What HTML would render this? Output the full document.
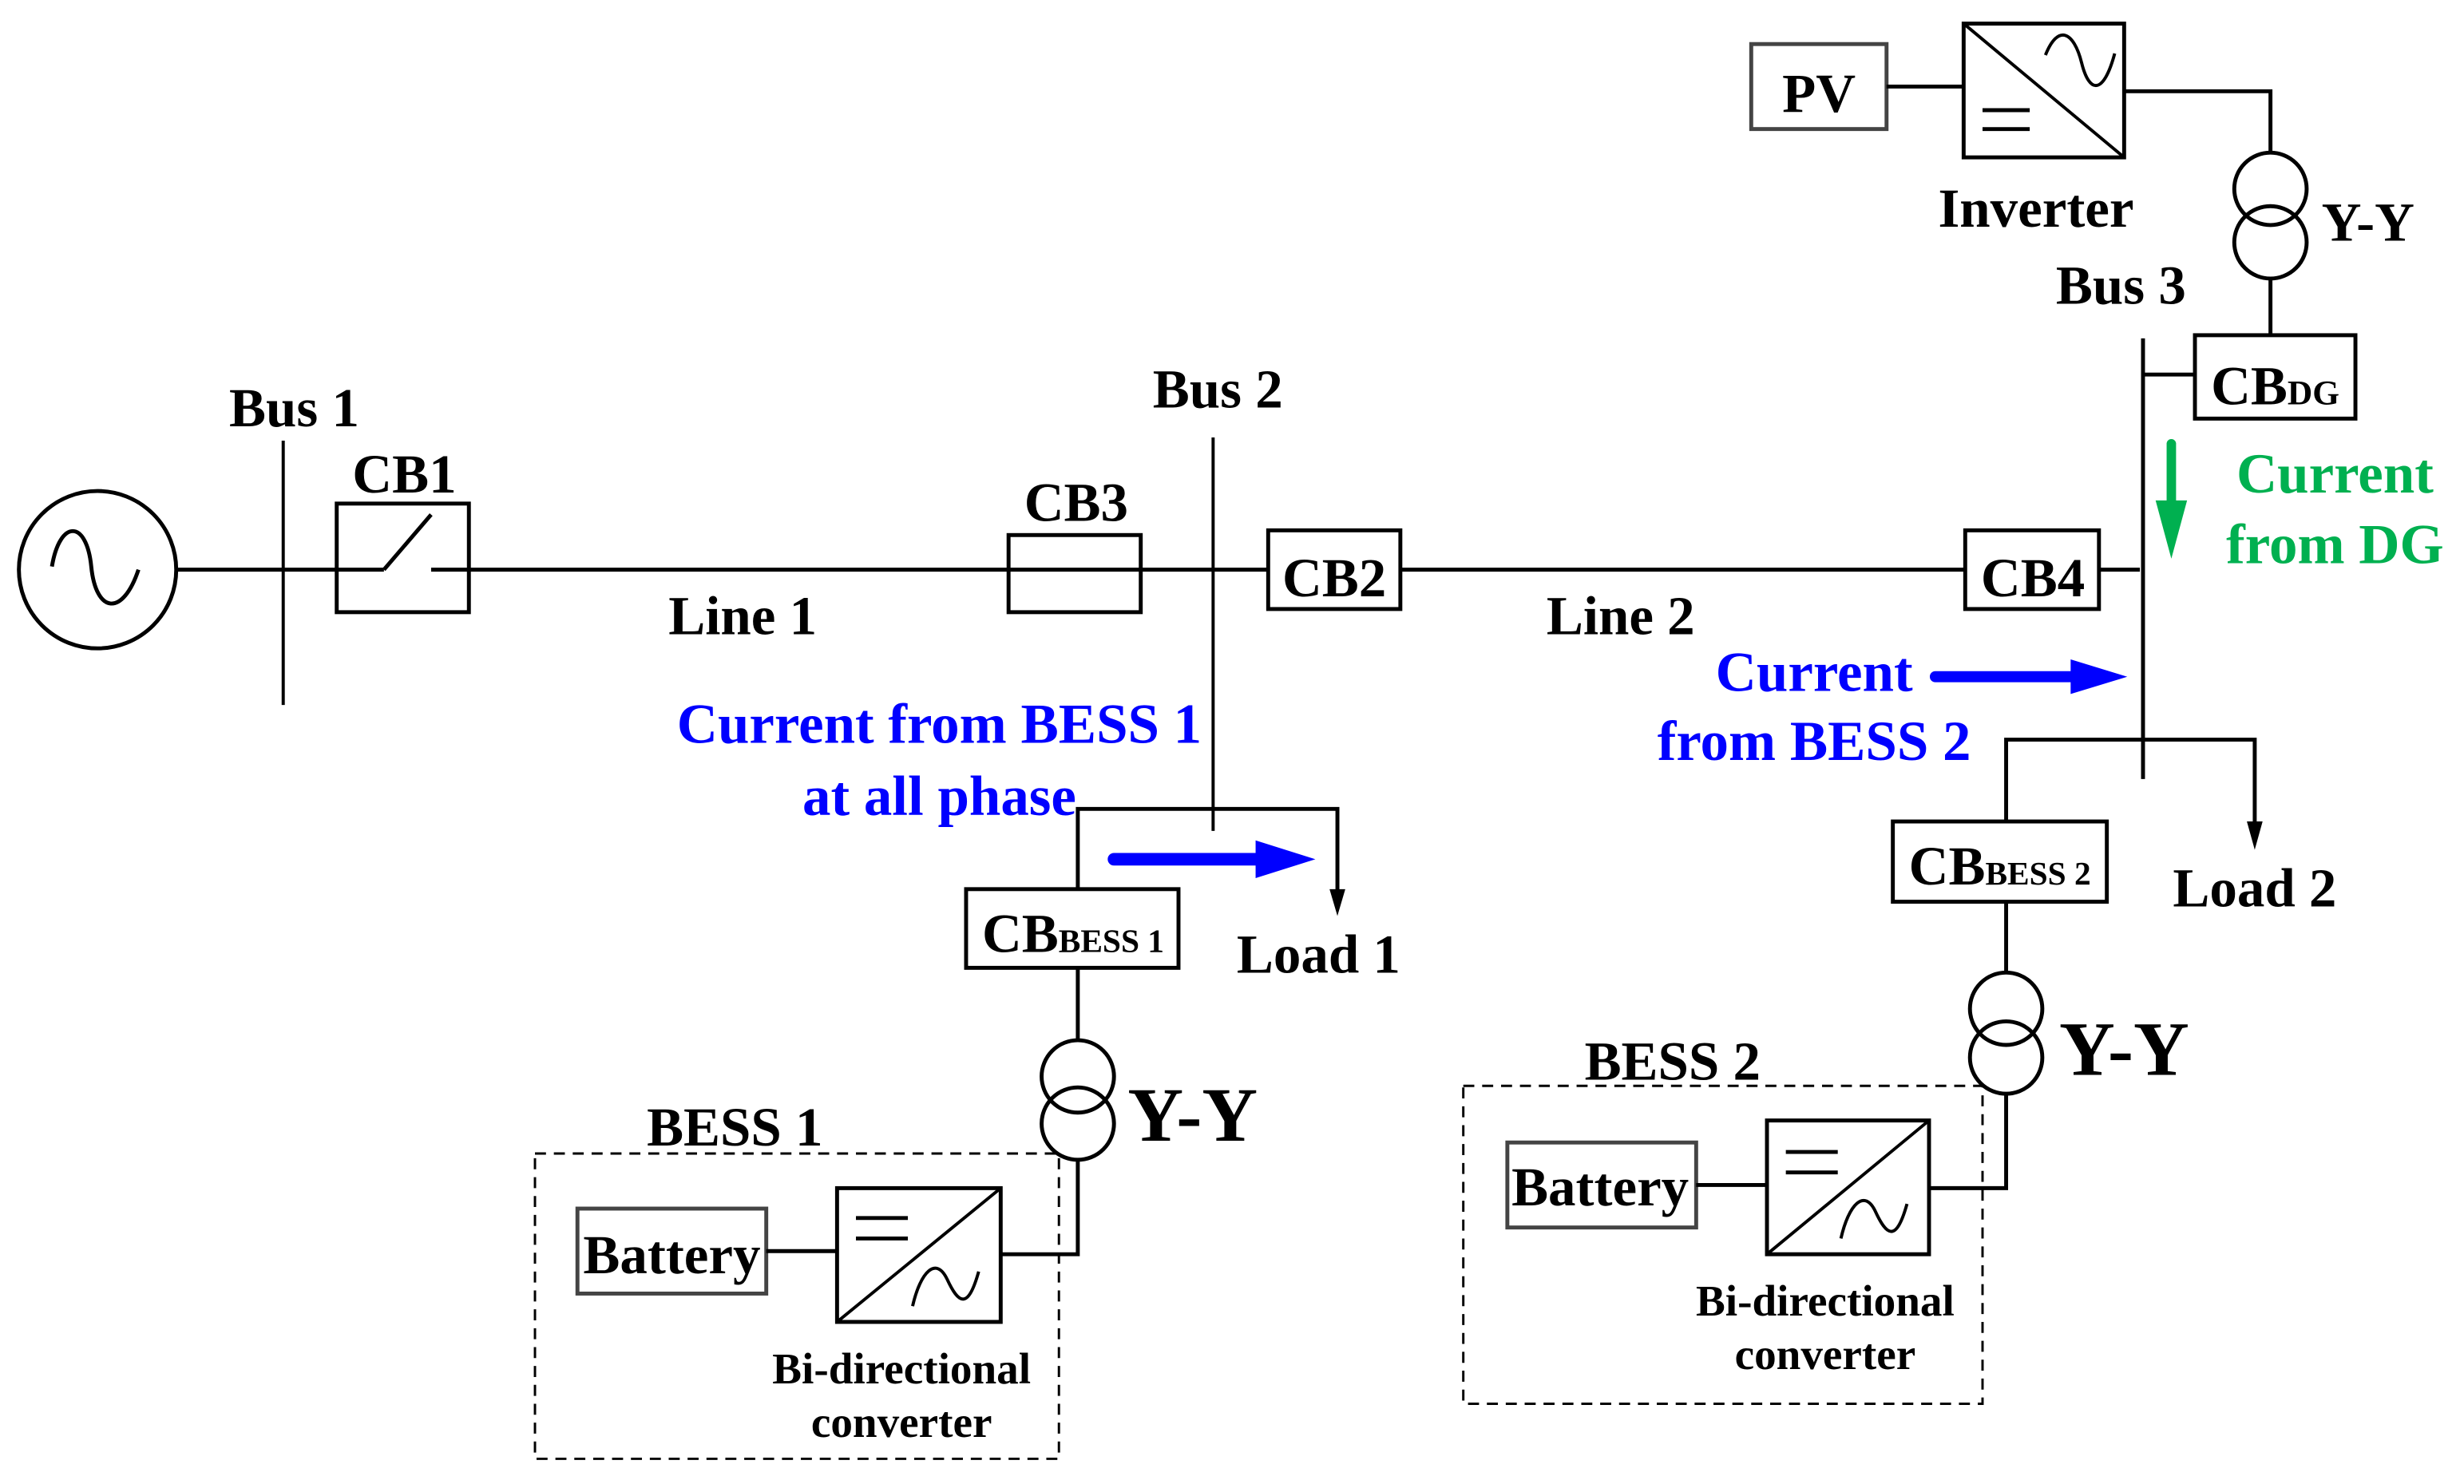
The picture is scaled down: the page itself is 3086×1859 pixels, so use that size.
<!DOCTYPE html>
<html><head><style>html,body{margin:0;padding:0;background:#fff}svg{display:block}text{font-family:"Liberation Serif",serif;font-weight:bold;text-anchor:middle}</style></head><body>
<svg width="3086" height="1859" viewBox="0 0 1566 943" preserveAspectRatio="none" xmlns="http://www.w3.org/2000/svg">
<g fill="none" stroke="#000" stroke-width="2.5">
<circle cx="62" cy="362" r="50"/>
<path d="M33,360 C38,330 55,330 58,360 S78,392 88,362" stroke-width="2.5"/>
<line x1="112" y1="362" x2="244" y2="362"/>
<line x1="244" y1="362" x2="274" y2="327"/>
<line x1="274" y1="362" x2="1360" y2="362"/>
<line x1="180" y1="280" x2="180" y2="448" stroke-width="2"/>
<rect x="214" y="320" width="84" height="69"/>
<rect x="641" y="340" width="84" height="49"/>
<line x1="771" y1="278" x2="771" y2="528" stroke-width="2"/>
<rect x="806" y="337" width="84" height="50" fill="#fff"/>
<rect x="1249" y="337" width="85" height="50" fill="#fff"/>
<line x1="1362" y1="215" x2="1362" y2="495"/>
<rect x="1395" y="213" width="102" height="53"/>
<line x1="1362" y1="238" x2="1395" y2="238"/>
<polyline points="1443,213 1443,178"/>
<circle cx="1443" cy="120" r="23"/><circle cx="1443" cy="154" r="23"/>
<polyline points="1443,97 1443,58 1350,58"/>
<rect x="1248" y="15" width="102" height="85"/>
<line x1="1248" y1="15" x2="1350" y2="100" stroke-width="2"/>
<path d="M1300,35 C1308,15 1318,20 1323,40 S1337,60 1344,34" stroke-width="2"/>
<line x1="1260" y1="70" x2="1290" y2="70"/><line x1="1260" y1="82" x2="1290" y2="82"/>
<rect x="1113" y="28" width="86" height="54" stroke="#444"/>
<line x1="1199" y1="55" x2="1248" y2="55"/>
<polyline points="1275,522 1275,470 1433,470 1433,525"/>
<rect x="1203" y="522" width="136" height="51"/>
<line x1="1275" y1="573" x2="1275" y2="619"/>
<circle cx="1275" cy="641" r="23"/><circle cx="1275" cy="672" r="23"/>
<polyline points="1275,695 1275,755 1226,755"/>
<rect x="930" y="690" width="330" height="202" stroke-dasharray="7,5" stroke-width="1.5"/>
<rect x="958" y="726" width="120" height="54" stroke="#444"/>
<line x1="1078" y1="753" x2="1123" y2="753"/>
<rect x="1123" y="712" width="103" height="85"/>
<line x1="1123" y1="797" x2="1226" y2="712" stroke-width="2"/>
<line x1="1135" y1="732" x2="1168" y2="732"/><line x1="1135" y1="745" x2="1168" y2="745"/>
<path d="M1170,787 C1175,765 1185,755 1192,770 S1205,790 1212,765" stroke-width="2"/>
<polyline points="685,565 685,514 850,514 850,568"/>
<rect x="614" y="565" width="135" height="50"/>
<line x1="685" y1="615" x2="685" y2="661"/>
<circle cx="685" cy="684" r="23"/><circle cx="685" cy="714" r="23"/>
<polyline points="685,737 685,797 636,797"/>
<rect x="340" y="733" width="333" height="194" stroke-dasharray="7,5" stroke-width="1.5"/>
<rect x="367" y="768" width="120" height="54" stroke="#444"/>
<line x1="487" y1="795" x2="532" y2="795"/>
<rect x="532" y="755" width="104" height="85"/>
<line x1="532" y1="840" x2="636" y2="755" stroke-width="2"/>
<line x1="544" y1="774" x2="577" y2="774"/><line x1="544" y1="787" x2="577" y2="787"/>
<path d="M580,830 C585,808 595,798 602,813 S615,833 622,808" stroke-width="2"/>
</g>
<polygon points="1428,522 1438,522 1433,540" fill="#000"/>
<polygon points="845,565 855,565 850,582" fill="#000"/>
<g stroke-linecap="round">
<line x1="1380" y1="282" x2="1380" y2="325" stroke="#00b050" stroke-width="6"/>
<line x1="708" y1="546" x2="800" y2="546" stroke="#0000ff" stroke-width="8"/>
<line x1="1230" y1="430" x2="1320" y2="430" stroke="#0000ff" stroke-width="7"/>
</g>
<polygon points="1370,318 1390,318 1380,355" fill="#00b050"/>
<polygon points="798,534 836,546 798,558" fill="#0000ff"/>
<polygon points="1316,419 1352,430 1316,441" fill="#0000ff"/>
<g font-size="35" fill="#000">
<text x="187" y="271">Bus 1</text>
<text x="257" y="313">CB1</text>
<text x="684" y="331">CB3</text>
<text x="774" y="259">Bus 2</text>
<text x="848" y="379">CB2</text>
<text x="472" y="403">Line 1</text>
<text x="1030" y="403">Line 2</text>
<text x="1292" y="379">CB4</text>
<text x="1348" y="193">Bus 3</text>
<text x="1156" y="71">PV</text>
<text x="1294" y="144">Inverter</text>
<text x="1505" y="153">Y-Y</text>
<text x="1433" y="576">Load 2</text>
<text x="838" y="618">Load 1</text>
<text x="1063" y="686">BESS 2</text>
<text x="467" y="728">BESS 1</text>
<text x="1017" y="766">Battery</text>
<text x="427" y="809">Battery</text>
<text x="1446" y="257">CB<tspan font-size="22">DG</tspan></text>
<text x="1271" y="562">CB<tspan font-size="21">BESS 2</tspan></text>
<text x="682" y="605">CB<tspan font-size="21">BESS 1</tspan></text>
</g>
<g font-size="49" fill="#000"><text x="1350" y="683">Y-Y</text><text x="758" y="725">Y-Y</text></g>
<g font-size="28" fill="#000">
<text x="1160" y="836">Bi-directional</text><text x="1160" y="870">converter</text>
<text x="573" y="879">Bi-directional</text><text x="573" y="913">converter</text>
</g>
<g font-size="36" fill="#0000ff">
<text x="597" y="472">Current from BESS 1</text>
<text x="597" y="518">at all phase</text>
<text x="1153" y="439">Current</text>
<text x="1153" y="483">from BESS 2</text>
</g>
<g font-size="36" fill="#00b050">
<text x="1484" y="313">Current</text>
<text x="1484" y="358">from DG</text>
</g>
</svg>
</body></html>
